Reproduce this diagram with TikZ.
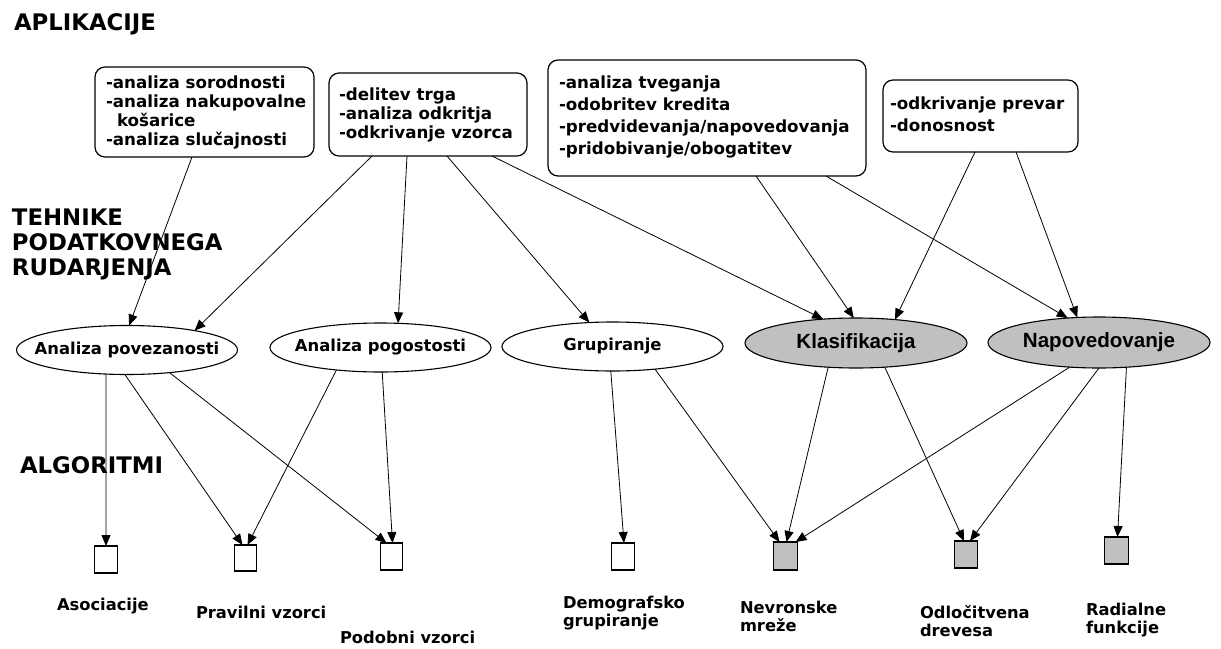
\documentclass[tikz,border=0pt]{standalone}
\usepackage{fontspec}
\setmainfont{DejaVu Sans}
\newfontfamily\arialfam{Liberation Sans}
\usetikzlibrary{arrows.meta,shapes.geometric}

% left-aligned block whose reference point is the baseline of its first line
\newcommand\toplines[1]{\begin{tabular}[t]{@{}l@{}}#1\end{tabular}}

\begin{document}
\begin{tikzpicture}[x=1pt,y=-1pt,
  every node/.style={inner sep=0pt,outer sep=0pt},
  heading/.style={anchor=base west,font=\fontsize{22.8}{25}\selectfont\bfseries},
  appbox/.style={draw,rounded corners=10pt,line width=1.2pt,anchor=north west},
  apptext/.style={anchor=base west,font=\fontsize{16.7}{#1}\selectfont\bfseries},
  % the caption is a centred label, so the ellipse keeps its own fixed size
  technique/.style={ellipse,draw,line width=1.1pt,minimum width=221pt,minimum height=49pt,
    label={[font=\fontsize{16.4}{19}\selectfont\bfseries]center:#1}},
  predictive/.style={ellipse,draw,line width=1.1pt,fill=silver,minimum width=222pt,minimum height=50pt,
    label={[font=\arialfam\fontsize{20.6}{24}\selectfont\bfseries]center:#1}},
  algo/.style={rectangle,draw,line width=1.2pt,minimum width=22.5pt,minimum height=27pt,fill=white},
  algofill/.style={algo,fill=silver,minimum width=23.5pt},
  algolabel/.style={anchor=base west,font=\fontsize{16.3}{18}\selectfont\bfseries},
  arr/.style={-{Triangle[length=11pt,width=9pt]},line width=0.8pt}]
\definecolor{silver}{RGB}{192,192,192}
\useasboundingbox (0,0) rectangle (1221,648);

% level headings
\node[heading] (hApp) at (14,30) {APLIKACIJE};
\node[heading] (hTech) at (12,225.7) {\toplines{TEHNIKE\\PODATKOVNEGA\\RUDARJENJA}};
\node[heading] (hAlg) at (20,473) {ALGORITMI};

% application boxes
\node[appbox,minimum width=219pt,minimum height=90pt] (box1) at (95,67) {};
\node[apptext=19] (box1txt) at (106,88) {\toplines{-analiza sorodnosti\\-analiza nakupovalne\\\hspace{11pt}košarice\\-analiza slučajnosti}};

\node[appbox,minimum width=198pt,minimum height=83pt] (box2) at (329,73) {};
\node[apptext=19] (box2txt) at (339,100) {\toplines{-delitev trga\\-analiza odkritja\\-odkrivanje vzorca}};

\node[appbox,minimum width=318pt,minimum height=116pt] (box3) at (548,60) {};
\node[apptext=22.3] (box3txt) at (559,88) {\toplines{-analiza tveganja\\-odobritev kredita\\-predvidevanja/napovedovanja\\-pridobivanje/obogatitev}};

\node[appbox,minimum width=195pt,minimum height=72pt] (box4) at (883,80) {};
\node[apptext=22] (box4txt) at (890,109.5) {\toplines{-odkrivanje prevar\\-donosnost}};

% data mining techniques
\node[technique={Analiza povezanosti}] (e1) at (127,350) {};
\node[technique={Analiza pogostosti}] (e2) at (380.5,347.5) {};
\node[technique={Grupiranje}] (e3) at (612.5,346.5) {};
\node[predictive={Klasifikacija}] (e4) at (856,343) {};
\node[predictive={Napovedovanje},minimum height=51pt] (e5) at (1099,342.5) {};

% algorithms
\node[algo,minimum height=27pt] (s1) at (106,559.5) {};
\node[algo,minimum height=26pt] (s2) at (245.5,558) {};
\node[algo] (s3) at (391.5,556.5) {};
\node[algo] (s4) at (623,556.5) {};
\node[algofill,minimum height=28pt] (s5) at (785.5,556) {};
\node[algofill] (s6) at (966,554.5) {};
\node[algofill] (s7) at (1116.5,550.5) {};

\node[algolabel] (l1) at (57,610) {Asociacije};
\node[algolabel] (l2) at (196,618) {Pravilni vzorci};
\node[algolabel] (l3) at (340,643) {Podobni vzorci};
\node[algolabel] (l4) at (563,608) {\toplines{Demografsko\\grupiranje}};
\node[algolabel] (l5) at (740,613) {\toplines{Nevronske\\mreže}};
\node[algolabel] (l6) at (920,618) {\toplines{Odločitvena\\drevesa}};
\node[algolabel] (l7) at (1086,615) {\toplines{Radialne\\funkcije}};

% applications -> techniques
\draw[arr] ([xshift=-12.5pt]box1.south) -- (e1.85);
\draw[arr] ([xshift=-56pt]box2.south) -- (e1.16);
\draw[arr] ([xshift=-21pt]box2.south) -- (e2.54);
\draw[arr] ([xshift=19pt]box2.south) -- (e3.134);
\draw[arr] ([xshift=64pt]box2.south) -- (e4.144);
\draw[arr] ([xshift=49pt]box3.south) -- (e4.95);
\draw[arr] ([xshift=119pt]box3.south) -- (e5.142);
\draw[arr] ([xshift=-5.5pt]box4.south) -- (e4.31);
\draw[arr] ([xshift=35.5pt]box4.south) -- (e5.131);

% techniques -> algorithms
\draw[arr] (e1.-131) -- (s1.north);
\draw[arr] (e1.-95) -- ([xshift=-3pt]s2.north);
\draw[arr] (e1.-28) -- ([xshift=-5pt]s3.north);
\draw[arr] (e2.-153) -- ([xshift=2pt]s2.north);
\draw[arr] (e2.-86) -- ([xshift=1pt]s3.north);
\draw[arr] (e3.-94) -- ([xshift=1pt]s4.north);
\draw[arr] (e3.-28) -- ([xshift=-6pt]s5.north);
\draw[arr] (e4.-139) -- ([xshift=1pt]s5.north);
\draw[arr] (e4.-40) -- ([xshift=-2pt]s6.north);
\draw[arr] (e5.-140) -- ([xshift=10pt]s5.north);
\draw[arr] (e5.-90) -- ([xshift=4pt]s6.north);
\draw[arr] (e5.-42) -- ([xshift=1pt]s7.north);
\end{tikzpicture}
\end{document}
